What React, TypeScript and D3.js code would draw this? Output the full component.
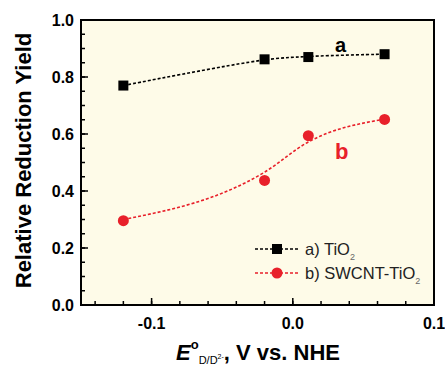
import * as d3 from "d3";

const potentials = [-0.12, -0.02, 0.011, 0.065];
const yieldTiO2 = [0.77, 0.862, 0.87, 0.88];
const yieldSwcnt = [0.296, 0.437, 0.594, 0.651];
// smooth guide curves drawn through the data
const fitTiO2 = [0.77, 0.86, 0.872, 0.88];
const fitSwcnt = [0.3, 0.466, 0.572, 0.652];
const xMajor = [-0.1, 0.0, 0.1];
const yMajor = [0.0, 0.2, 0.4, 0.6, 0.8, 1.0];

const W = 445;
const H = 366;
const M = { top: 20, right: 11, bottom: 61, left: 81 };
const RED = "#e8202a";

export default function App() {
  const x = d3.scaleLinear().domain([-0.15, 0.1]).range([M.left, W - M.right]);
  const y = d3.scaleLinear().domain([0, 1]).range([H - M.bottom, M.top]);

  const xMinor = d3.range(-0.14, 0.1, 0.02).map((v) => +v.toFixed(3));
  const yMinor = d3.range(0.05, 1, 0.05).map((v) => +v.toFixed(3));

  const lineA = d3
    .line<[number, number]>()
    .x((d) => x(d[0]))
    .y((d) => y(d[1]))
    .curve(d3.curveCatmullRom.alpha(0.5));
  const lineB = d3
    .line<[number, number]>()
    .x((d) => x(d[0]))
    .y((d) => y(d[1]))
    .curve(d3.curveMonotoneX);

  const pathA = lineA(potentials.map((p, i) => [p, fitTiO2[i]]));
  const pathB = lineB(potentials.map((p, i) => [p, fitSwcnt[i]]));

  const bottom = H - M.bottom;
  const font = "Liberation Sans, Arial, sans-serif";

  return (
    <svg
      width={W}
      height={H}
      style={{ position: "absolute", left: 0, top: 0 }}
      fontFamily={font}
    >
      <rect
        x={M.left}
        y={M.top}
        width={W - M.left - M.right}
        height={bottom - M.top}
        fill="#fefbe8"
      />

      {xMinor.map((v) => (
        <line key={"xm" + v} x1={x(v)} x2={x(v)} y1={bottom} y2={bottom - 4} stroke="#000" strokeWidth={1.5} />
      ))}
      {xMajor.map((v) => (
        <line key={"xM" + v} x1={x(v)} x2={x(v)} y1={bottom} y2={bottom - 7} stroke="#000" strokeWidth={1.5} />
      ))}
      {yMinor.map((v) => (
        <line key={"ym" + v} x1={M.left} x2={M.left + 4} y1={y(v)} y2={y(v)} stroke="#000" strokeWidth={1.5} />
      ))}
      {yMajor.map((v) => (
        <line key={"yM" + v} x1={M.left} x2={M.left + 7} y1={y(v)} y2={y(v)} stroke="#000" strokeWidth={1.5} />
      ))}

      <rect
        x={M.left}
        y={M.top}
        width={W - M.left - M.right}
        height={bottom - M.top}
        fill="none"
        stroke="#000"
        strokeWidth={2}
      />

      {xMajor.map((v) => (
        <text key={"xl" + v} x={x(v)} y={bottom + 24} textAnchor="middle" fontSize={16} fontWeight="bold">
          {v.toFixed(1)}
        </text>
      ))}
      {yMajor.map((v) => (
        <text key={"yl" + v} x={M.left - 7} y={y(v)} dy="0.35em" textAnchor="end" fontSize={16} fontWeight="bold">
          {v.toFixed(1)}
        </text>
      ))}

      <text
        transform={`translate(31, ${(M.top + bottom) / 2 - 2}) rotate(-90)`}
        textAnchor="middle"
        fontSize={22}
        fontWeight="bold"
      >
        Relative Reduction Yield
      </text>

      <text x={176} y={360} fontSize={22} fontWeight="bold">
        <tspan fontStyle="italic">E</tspan>
        <tspan dy={-11} fontSize={13}>o</tspan>
        <tspan dy={15} fontSize={11} fontWeight="normal">D/D</tspan>
        <tspan dy={-5} fontSize={7} fontWeight="normal">2-</tspan>
        <tspan dy={1} fontSize={22}>, V vs. NHE</tspan>
      </text>

      <path d={pathA ?? ""} fill="none" stroke="#000" strokeWidth={1.6} strokeDasharray="3,2" />
      <path d={pathB ?? ""} fill="none" stroke={RED} strokeWidth={1.6} strokeDasharray="3,2" />

      {potentials.map((p, i) => (
        <rect key={"a" + i} x={x(p) - 5} y={y(yieldTiO2[i]) - 5} width={10} height={10} fill="#000" />
      ))}
      {potentials.map((p, i) => (
        <circle key={"b" + i} cx={x(p)} cy={y(yieldSwcnt[i])} r={5.5} fill={RED} />
      ))}

      <text x={335} y={52} fontSize={20} fontWeight="bold">a</text>
      <text x={335} y={159} fontSize={22} fontWeight="bold" fill={RED}>b</text>

      <g>
        <line x1={255} x2={300} y1={249} y2={249} stroke="#000" strokeWidth={1.6} strokeDasharray="3,2" />
        <rect x={272} y={244} width={10} height={10} fill="#000" />
        <text x={305} y={255} fontSize={16.5} fill="#222">
          a) TiO<tspan dy={5} fontSize={9} fill="#666">2</tspan>
        </text>
        <line x1={255} x2={300} y1={273} y2={273} stroke={RED} strokeWidth={1.6} strokeDasharray="3,2" />
        <circle cx={277} cy={273} r={5.5} fill={RED} />
        <text x={305} y={279} fontSize={16.5} fill="#222">
          b) SWCNT-TiO<tspan dy={5} fontSize={9} fill="#666">2</tspan>
        </text>
      </g>
    </svg>
  );
}
